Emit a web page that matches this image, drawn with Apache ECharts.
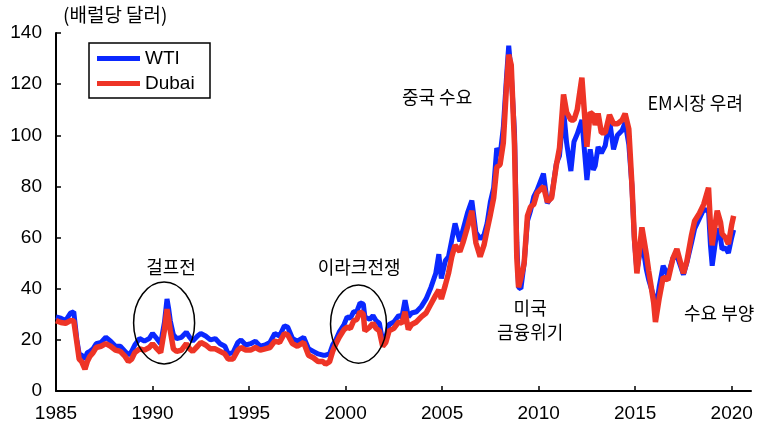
<!DOCTYPE html>
<html>
<head>
<meta charset="utf-8">
<script src="https://cdn.jsdelivr.net/npm/echarts@6/dist/echarts.min.js"></script>
<style>
  html, body { margin: 0; padding: 0; background: #fff; }
  #chart { width: 768px; height: 429px; }
</style>
</head>
<body>
<div id="chart"></div>
<script>
// 월별 유가 (배럴당 달러), 그림에서 읽은 값
const dates = [
  1985.00, 1985.25, 1985.50, 1985.75, 1985.92, 1986.08, 1986.20, 1986.33, 1986.50, 1986.62,
  1986.75, 1986.92, 1987.08, 1987.33, 1987.58, 1987.83, 1988.08, 1988.33, 1988.58, 1988.75,
  1988.92, 1989.08, 1989.33, 1989.58, 1989.83, 1990.00, 1990.17, 1990.42, 1990.50, 1990.62,
  1990.75, 1990.83, 1990.92, 1991.08, 1991.25, 1991.50, 1991.75, 1991.92, 1992.08, 1992.33,
  1992.50, 1992.75, 1993.00, 1993.25, 1993.50, 1993.75, 1993.92, 1994.17, 1994.42, 1994.58,
  1994.83, 1995.08, 1995.33, 1995.58, 1995.83, 1996.08, 1996.33, 1996.58, 1996.83, 1997.00,
  1997.25, 1997.50, 1997.83, 1998.08, 1998.33, 1998.58, 1998.83, 1998.96, 1999.17, 1999.33,
  1999.50, 1999.67, 1999.92, 2000.08, 2000.25, 2000.42, 2000.58, 2000.75, 2000.92, 2001.00,
  2001.25, 2001.42, 2001.58, 2001.75, 2001.92, 2002.08, 2002.25, 2002.50, 2002.75, 2002.92,
  2003.08, 2003.25, 2003.42, 2003.67, 2003.92, 2004.17, 2004.42, 2004.67, 2004.83, 2004.96,
  2005.17, 2005.33, 2005.50, 2005.67, 2005.92, 2006.08, 2006.33, 2006.54, 2006.75, 2006.97,
  2007.17, 2007.33, 2007.50, 2007.67, 2007.83, 2008.00, 2008.17, 2008.33, 2008.45, 2008.58,
  2008.75, 2008.87, 2008.96, 2009.08, 2009.25, 2009.42, 2009.58, 2009.75, 2009.92, 2010.25,
  2010.45, 2010.67, 2010.92, 2011.08, 2011.29, 2011.45, 2011.67, 2011.83, 2012.00, 2012.24,
  2012.50, 2012.67, 2012.83, 2012.93, 2013.08, 2013.25, 2013.45, 2013.67, 2013.88, 2014.08,
  2014.33, 2014.48, 2014.67, 2014.83, 2014.96, 2015.09, 2015.35, 2015.58, 2015.70, 2015.96,
  2016.05, 2016.25, 2016.45, 2016.70, 2016.96, 2017.16, 2017.50, 2017.67, 2017.92, 2018.08,
  2018.33, 2018.55, 2018.80, 2018.90, 2018.99, 2019.25, 2019.42, 2019.50, 2019.67, 2019.83,
  2020.00, 2020.10
];
const wti = [
  29.0, 28.5, 27.5, 30.5, 31.0, 20.0, 14.5, 14.0, 12.5, 15.0,
  15.5, 16.5, 18.5, 19.0, 21.0, 19.5, 17.5, 17.5, 15.5, 14.0,
  15.5, 18.0, 20.5, 19.5, 20.5, 22.5, 21.0, 18.5, 18.0, 27.0,
  36.0, 32.5, 27.5, 22.0, 20.5, 21.0, 23.0, 21.0, 19.5, 21.5,
  22.5, 21.5, 20.0, 20.5, 18.5, 17.5, 14.5, 15.0, 19.0, 20.0,
  18.0, 18.5, 19.5, 17.5, 18.0, 19.0, 22.5, 21.5, 25.5, 25.0,
  20.5, 19.5, 21.0, 16.5, 15.5, 14.5, 14.0, 14.0, 14.5, 18.0,
  20.0, 23.0, 26.0, 29.0, 28.5, 31.0, 31.0, 34.5, 34.0, 29.0,
  28.0, 29.5, 27.5, 26.5, 19.5, 21.0, 26.0, 27.0, 29.5, 29.0,
  35.5, 29.0, 30.5, 31.0, 33.0, 36.0, 40.5, 46.0, 53.5, 44.0,
  51.0, 52.5, 59.0, 65.5, 58.5, 63.0, 70.0, 74.5, 62.0, 59.5,
  61.0, 65.5, 74.0, 79.5, 95.0, 92.0, 103.0, 122.0, 135.0, 124.0,
  101.0, 58.0, 40.5, 40.0, 50.0, 66.5, 70.5, 76.0, 78.5, 85.0,
  73.5, 76.0, 89.0, 92.0, 110.0, 97.0, 86.0, 97.5, 100.5, 106.0,
  82.5, 94.5, 86.5, 88.0, 95.5, 93.0, 96.0, 106.0, 94.5, 100.0,
  102.0, 105.0, 96.5, 80.5, 59.0, 47.0, 59.0, 47.5, 43.5, 37.0,
  30.0, 41.0, 49.0, 45.0, 52.0, 53.0, 45.5, 50.0, 58.0, 63.5,
  67.5, 71.0, 70.5, 57.0, 49.0, 63.5, 60.0, 55.5, 56.0, 54.0,
  60.0, 63.0
];
const dubai = [
  27.5, 26.8, 26.5, 27.5, 27.5, 19.0, 12.5, 11.5, 8.5, 11.5,
  13.5, 15.0, 17.0, 17.5, 18.5, 17.5, 16.0, 15.5, 13.5, 11.5,
  12.5, 15.0, 16.5, 16.0, 17.0, 18.5, 17.0, 15.0, 14.5, 24.0,
  32.0, 28.5, 23.5, 16.5, 15.5, 16.0, 18.5, 16.5, 15.5, 17.5,
  19.0, 18.0, 16.5, 16.5, 15.5, 14.5, 12.5, 12.5, 16.0, 17.0,
  16.0, 16.0, 17.0, 16.0, 16.5, 17.0, 19.5, 19.0, 22.5, 22.0,
  18.5, 17.5, 19.0, 14.0, 13.0, 11.5, 11.5, 10.5, 11.5, 15.5,
  18.5, 21.0, 24.0, 25.0, 24.5, 27.5, 28.0, 31.0, 30.0, 23.5,
  25.0, 26.5, 24.5, 23.5, 17.5, 19.0, 23.5, 24.5, 27.0, 26.5,
  31.0, 24.0, 26.0, 27.0, 29.0, 30.5, 34.0, 37.5, 39.5, 36.0,
  41.5, 46.0, 52.5, 57.0, 54.5, 58.0, 64.5, 70.5, 58.0, 52.5,
  57.0, 63.0, 69.0, 75.5, 87.5, 88.5, 97.0, 118.5, 131.5, 127.5,
  96.0, 52.0, 40.5, 44.0, 50.0, 68.5, 72.0, 73.0, 77.5, 80.0,
  74.0, 75.5, 88.5, 95.0, 116.0, 109.0, 106.0, 106.0, 110.0, 122.5,
  95.5, 109.0, 108.0, 104.0, 108.5, 101.0, 101.0, 108.0, 104.5, 104.5,
  106.0, 108.5, 102.5, 81.0, 60.0, 46.0, 64.0, 53.5, 47.0, 34.5,
  27.0, 36.5, 44.5, 43.5, 52.0, 55.5, 46.0, 50.5, 61.0, 66.5,
  69.5, 73.0, 79.5, 65.0, 57.0, 70.5, 66.0, 61.5, 60.0, 57.5,
  65.0, 68.5
];
const yearTicks = [1985, 1990, 1995, 2000, 2005, 2010, 2015, 2020];
// 주석: [글자, 연도, 값]
const notes = [
  ['중국 수요', 2004.74, 115],
  ['EM시장 우려', 2018.11, 112.6],
  ['걸프전', 1990.96, 48.5],
  ['이라크전쟁', 2000.7, 48.5],
  ['미국\n금융위기', 2009.56, 27.8],
  ['수요 부양', 2019.35, 30.5]
];
// 타원: [중심 연도, 중심 값, 가로 반경(년), 세로 반경(값)]
const circles = [
  [1990.6, 26.6, 1.58, 16.0],
  [2000.67, 26.2, 1.45, 15.3]
];

const numFont = '"Liberation Sans", Arial, sans-serif';
const korFont = '"Noto Sans CJK KR", sans-serif';

const chart = echarts.init(document.getElementById('chart'));

let option = {
  animation: false,
  backgroundColor: '#fff',
  title: {
    text: '(배럴당 달러)',
    left: 58,
    top: 0,
    textStyle: { fontFamily: korFont, fontSize: 19, fontWeight: 'normal', color: '#000' }
  },
  legend: {
    data: ['WTI', 'Dubai'],
    orient: 'vertical',
    left: 89,
    top: 43,
    padding: [6, 8, 5, 8],
    itemGap: 6,
    itemWidth: 43,
    itemHeight: 5,
    icon: 'rect',
    borderColor: '#000',
    borderWidth: 1.5,
    borderRadius: 0,
    textStyle: { fontFamily: numFont, fontSize: 19, color: '#000', lineHeight: 18, width: 57 }
  },
  grid: { left: 56, right: 17, top: 33, bottom: 38 },
  xAxis: {
    type: 'value',
    min: 1985,
    max: 2021,
    interval: 5,
    axisLine: { lineStyle: { color: '#000', width: 2 } },
    axisTick: { inside: true, length: 5, customValues: yearTicks, lineStyle: { color: '#000', width: 1.5 } },
    axisLabel: {
      customValues: yearTicks,
      formatter: v => String(v),
      fontFamily: numFont, fontSize: 19, color: '#000', margin: 13
    },
    splitLine: { show: false }
  },
  yAxis: {
    type: 'value',
    min: 0,
    max: 140,
    interval: 20,
    axisLine: { show: true, lineStyle: { color: '#000', width: 2 } },
    axisTick: { show: true, inside: true, length: 5, lineStyle: { color: '#000', width: 1.5 } },
    axisLabel: { fontFamily: numFont, fontSize: 19, color: '#000', margin: 14 },
    splitLine: { show: false }
  },
  series: [
    {
      name: 'WTI',
      type: 'line',
      showSymbol: false,
      color: '#0a28ff',
      lineStyle: { width: 5, color: '#0a28ff' },
      data: dates.map((d, i) => [d, wti[i]]),
      z: 2
    },
    {
      name: 'Dubai',
      type: 'line',
      showSymbol: false,
      color: '#ee3426',
      lineStyle: { width: 5.5, color: '#ee3426' },
      data: dates.map((d, i) => [d, dubai[i]]),
      z: 3,
      markPoint: {
        symbol: 'circle',
        symbolSize: 1,
        itemStyle: { color: 'rgba(0,0,0,0)' },
        label: {
          show: true,
          position: 'inside',
          formatter: '{b}',
          fontFamily: korFont,
          fontSize: 18,
          lineHeight: 24,
          color: '#000'
        },
        data: notes.map(n => ({ name: n[0], coord: [n[1], n[2]] }))
      }
    }
  ]
};
chart.setOption(option);

// 타원은 좌표축으로 위치를 잡는다
const ellipses = circles.map(c => {
  const ctr = chart.convertToPixel({ gridIndex: 0 }, [c[0], c[1]]);
  const edge = chart.convertToPixel({ gridIndex: 0 }, [c[0] + c[2], c[1] + c[3]]);
  return {
    type: 'ellipse',
    shape: { cx: ctr[0], cy: ctr[1], rx: Math.abs(edge[0] - ctr[0]), ry: Math.abs(ctr[1] - edge[1]) },
    style: { fill: 'none', stroke: '#000', lineWidth: 1.5 },
    z: 10
  };
});
chart.setOption({ graphic: ellipses });
</script>
</body>
</html>
